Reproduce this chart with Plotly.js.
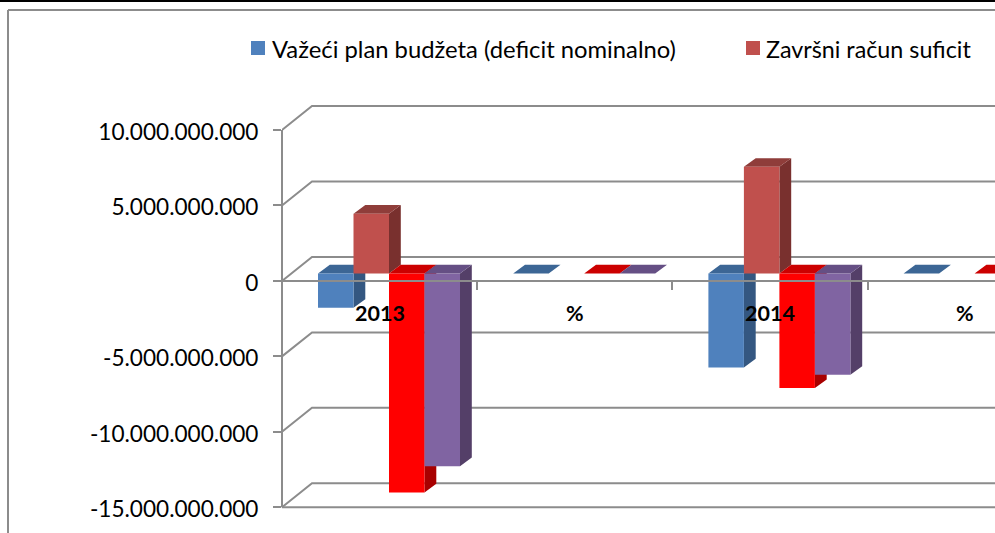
<!DOCTYPE html>
<html><head><meta charset="utf-8">
<script src="https://cdn.plot.ly/plotly-3.0.1.min.js"></script>
<style>html,body{margin:0;padding:0;background:#fff;overflow:hidden}#c{width:995px;height:533px}</style>
</head><body><div id="c"></div>
<script>
const categories = ['2013', '%', '2014', '%'];
const tickValues = [10e9, 5e9, 0, -5e9, -10e9, -15e9];
const tickLabels = ['10.000.000.000', '5.000.000.000', '0', '-5.000.000.000', '-10.000.000.000', '-15.000.000.000'];
const planDeficit = [-2.28e9, 0, -6.23e9, 0];
const racunSuficit = [3.95e9, null, 7.06e9, null];
const treciNiz = [-14.51e9, 0, -7.6e9, 0];
const cetvrtiNiz = [-12.77e9, 0, -6.72e9, 0];
const legendNames = ['Važeći plan budžeta (deficit nominalno)', 'Završni račun suficit'];

const W = 995, H = 533;
const plotLeft = 282, zeroPx = 281, minPx = 507.3, maxPx = 130;
const catPx = 195.2;
const valPx = (minPx - maxPx) / 25e9;
const px = v => v / catPx, py = v => v / valPx;
const xMax = (W - plotLeft) / catPx;
const barW = px(35.5), shiftX = px(9.4), shiftY = py(7.5);
const depX = px(11.8), depY = py(8.7);
const wallX = px(30), wallY = py(24);
const GRAY = '#8c8c8c';
const yLow = -15.5e9, yHigh = 13e9;
const plotBottom = minPx + (-15e9 - yLow) * valPx, plotTop = maxPx - (yHigh - 10e9) * valPx;

const series = [
  {name: legendNames[0], vals: planDeficit, front: '#4F81BD', topc: '#3C6695', side: '#345781'},
  {name: legendNames[1], vals: racunSuficit, front: '#C0504D', topc: '#8F3D3A', side: '#79302E'},
  {name: 'Serija 3', vals: treciNiz, front: '#FF0000', topc: '#CC0000', side: '#A80000'},
  {name: 'Serija 4', vals: cetvrtiNiz, front: '#8064A2', topc: '#654F84', side: '#543F68'}
];

const traces = [];
// back wall grid lines with the diagonal on the side wall
const gx = [], gy = [];
tickValues.forEach(v => {
  gx.push(0, wallX, xMax, null);
  gy.push(v, v + wallY, v + wallY, null);
});
traces.push({type: 'scatter', mode: 'lines', x: gx, y: gy, cliponaxis: false, showlegend: false,
  hoverinfo: 'skip', line: {color: GRAY, width: 2}, zorder: 0});

series.forEach((s, si) => {
  const sideX = [], sideY = [], topX = [], topY = [];
  s.vals.forEach((v, i) => {
    if (v === null) return;
    const x0 = i + 0.5 + shiftX + (si - 2) * barW, x1 = x0 + barW;
    const hi = Math.max(v, 0) + shiftY, lo = Math.min(v, 0) + shiftY;
    if (v !== 0) {
      sideX.push(x1, x1 + depX, x1 + depX, x1, x1, null);
      sideY.push(lo, lo + depY, hi + depY, hi, lo, null);
    }
    topX.push(x0, x1, x1 + depX, x0 + depX, x0, null);
    topY.push(hi, hi, hi + depY, hi + depY, hi, null);
  });
  const z = 1 + si * 2;
  traces.push({type: 'scatter', mode: 'lines', x: sideX, y: sideY, fill: 'toself', fillcolor: s.side,
    line: {width: 0, color: s.side}, cliponaxis: false, showlegend: false, hoverinfo: 'skip', zorder: z});
  traces.push({type: 'scatter', mode: 'lines', x: topX, y: topY, fill: 'toself', fillcolor: s.topc,
    line: {width: 0, color: s.topc}, cliponaxis: false, showlegend: false, hoverinfo: 'skip', zorder: z});
  traces.push({type: 'bar', name: s.name, x: categories.map((c, i) => i + 0.5 + shiftX), y: s.vals,
    base: shiftY, width: barW, offset: (si - 2) * barW, marker: {color: s.front, line: {width: 0}},
    cliponaxis: false, showlegend: false, zorder: z + 1});
});

const yp = p => 1 - p / H, xp = p => p / W;
const legendFont = {family: 'Lato, sans-serif', size: 23.8, color: '#000'};
const legendFont2 = {family: 'Lato, sans-serif', size: 23.3, color: '#000'};
const layout = {
  width: W, height: H, margin: {l: 0, r: 0, t: 0, b: 0}, paper_bgcolor: '#fff', plot_bgcolor: 'rgba(0,0,0,0)',
  barmode: 'overlay', showlegend: false, font: {family: 'Lato, sans-serif', color: '#000', size: 22.6},
  xaxis: {domain: [xp(plotLeft), 1], range: [0, xMax], type: 'linear', anchor: 'free', position: yp(zeroPx),
    showgrid: false, zeroline: false, showline: false, showticklabels: false,
    tickmode: 'array', tickvals: [0, 1, 2, 3], ticks: 'outside', ticklen: 8, tickwidth: 2, tickcolor: GRAY},
  yaxis: {domain: [yp(plotBottom), yp(plotTop)], range: [yLow, yHigh], anchor: 'x', showgrid: false, zeroline: false,
    showline: false, tickmode: 'array', tickvals: tickValues, ticktext: tickLabels,
    ticks: 'outside', ticklen: 8, tickwidth: 2, tickcolor: GRAY, ticklabelstandoff: 10, ticklabelshift: 2,
    tickfont: {family: 'Lato, sans-serif', size: 22.6, color: '#000'}},
  shapes: [
    {type: 'rect', xref: 'paper', yref: 'paper', x0: 0, x1: 1, y0: yp(0), y1: yp(2), fillcolor: '#000', line: {width: 0}},
    {type: 'line', xref: 'paper', yref: 'paper', x0: xp(8), x1: xp(8), y0: yp(H), y1: yp(10), line: {color: GRAY, width: 2}},
    {type: 'line', xref: 'paper', yref: 'paper', x0: xp(8), x1: 1, y0: yp(10), y1: yp(10), line: {color: GRAY, width: 2}},
    {type: 'rect', xref: 'paper', yref: 'paper', x0: xp(251), x1: xp(265), y0: yp(55), y1: yp(41), fillcolor: series[0].front, line: {width: 0}},
    {type: 'rect', xref: 'paper', yref: 'paper', x0: xp(746), x1: xp(760), y0: yp(55), y1: yp(41), fillcolor: series[1].front, line: {width: 0}},
    // value axis, zero line and floor edge sit above the bars
    {type: 'line', xref: 'paper', yref: 'y', x0: xp(plotLeft), x1: xp(plotLeft), y0: -15e9, y1: 10e9, line: {color: GRAY, width: 2}},
    {type: 'line', xref: 'paper', yref: 'paper', x0: xp(plotLeft), x1: 1, y0: yp(zeroPx), y1: yp(zeroPx), line: {color: GRAY, width: 2}},
    {type: 'line', xref: 'paper', yref: 'y', x0: xp(plotLeft), x1: 1, y0: -15e9, y1: -15e9, line: {color: GRAY, width: 2}}
  ],
  annotations: [
    {xref: 'paper', yref: 'paper', x: xp(270), y: yp(49), xanchor: 'left', yanchor: 'middle', showarrow: false, text: legendNames[0], font: legendFont},
    {xref: 'paper', yref: 'paper', x: xp(764), y: yp(49), xanchor: 'left', yanchor: 'middle', showarrow: false, text: legendNames[1], font: legendFont2}
  ].concat(categories.map((c, i) => ({xref: 'x', yref: 'paper', x: i + 0.5, y: yp(313), xanchor: 'center', yanchor: 'middle',
    showarrow: false, text: c, font: {family: 'Lato, sans-serif', size: 21.5, weight: 700, color: '#000'}})))
};
Plotly.newPlot('c', traces, layout, {displayModeBar: false, responsive: false});
</script></body></html>
